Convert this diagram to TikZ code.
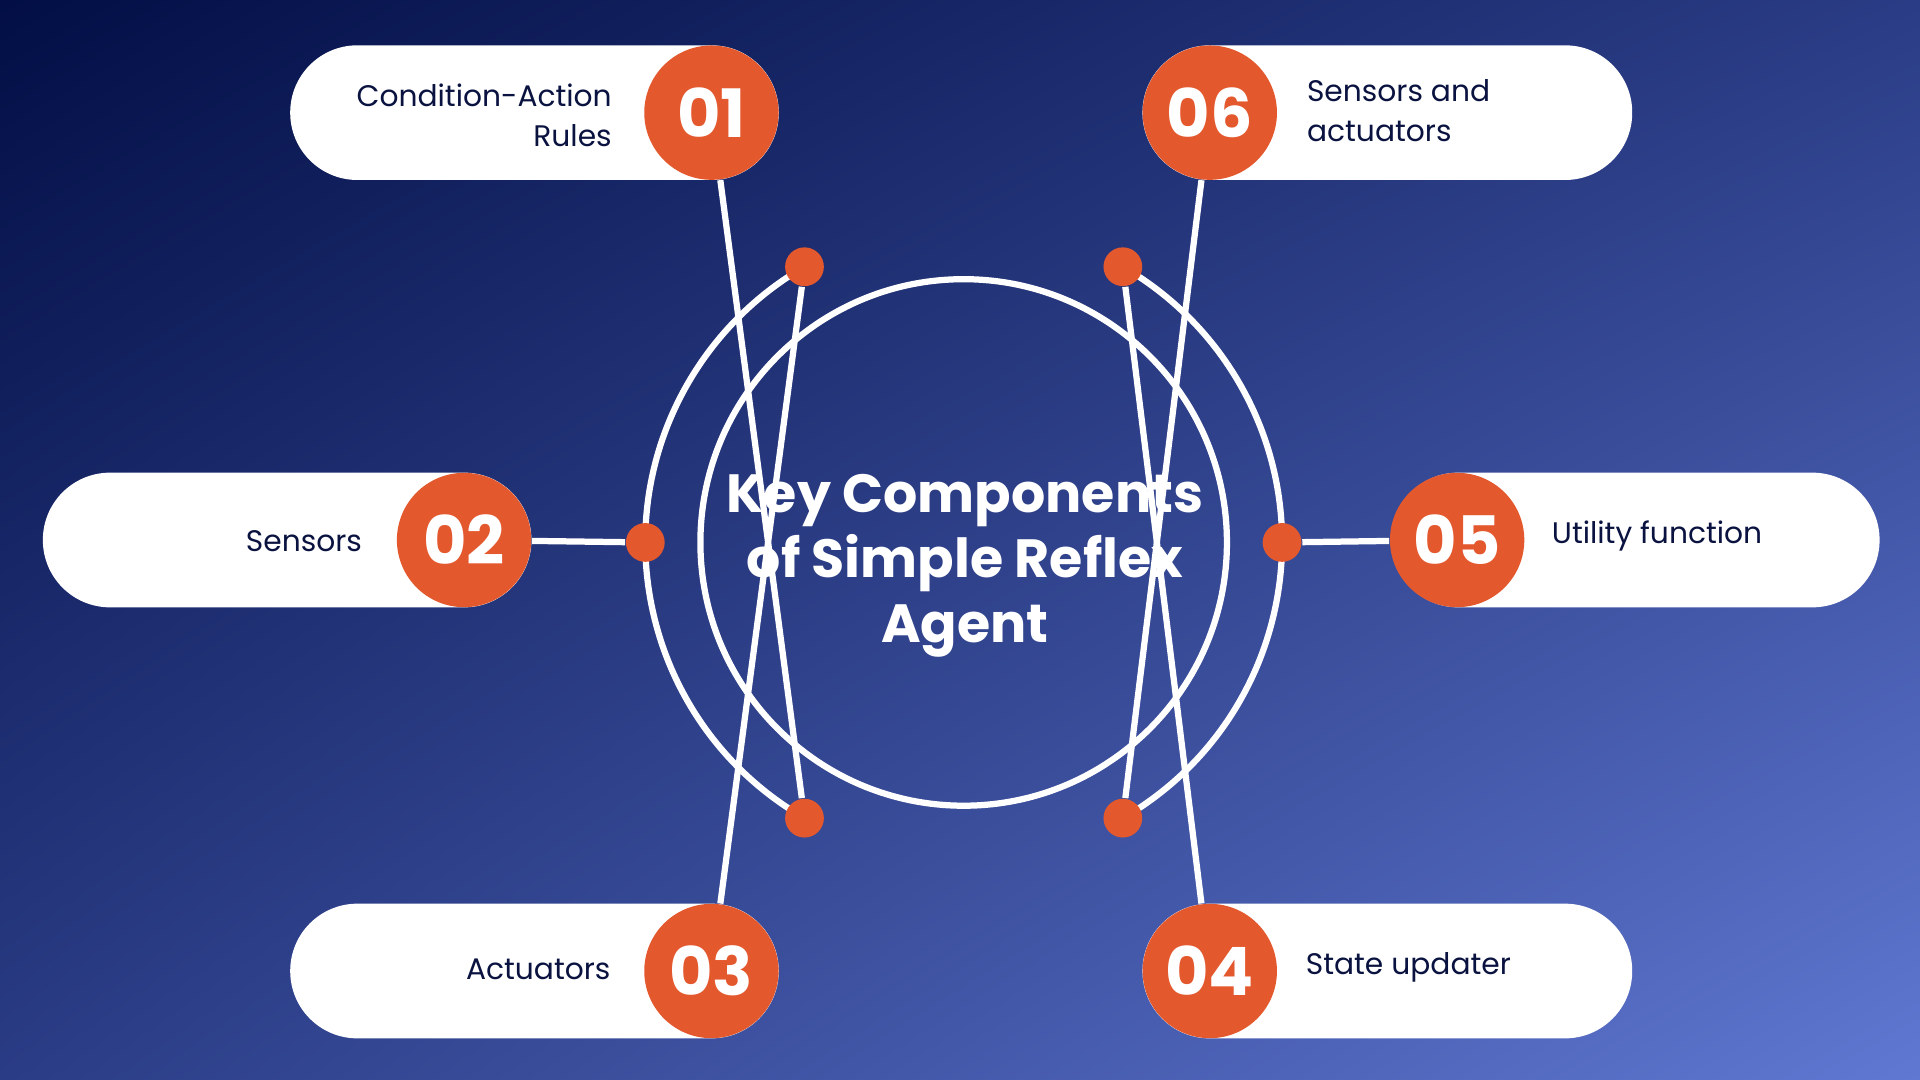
\documentclass[tikz,border=0pt]{standalone}
\usepackage{fontspec}
\setmainfont{Poppins}
\usetikzlibrary{calc,shadings}
\definecolor{bgA}{HTML}{020E45}
\definecolor{bgB}{HTML}{6078D2}
\definecolor{bgM}{HTML}{2A3C85}
\definecolor{org}{HTML}{E4582E}
\definecolor{navy}{HTML}{0A1240}
\begin{document}
\begin{tikzpicture}[x=0.01cm,y=-0.01cm,
  pill/.style={fill=white,rounded corners=15.6pt},
  numc/.style={circle,fill=org,minimum size=31.2pt,inner sep=0,text=white,font=\fontsize{15.5}{16}\selectfont\bfseries},
  lbl/.style={text=navy,font=\fontsize{6.9}{9.3}\selectfont,align=#1},
  dot/.style={circle,fill=org,minimum size=9pt,inner sep=0},
  wl/.style={white,line width=1.45pt}]
\shade[upper left=bgA,lower right=bgB,upper right=bgM,lower left=bgM] (0,0) rectangle (1568,882);
\useasboundingbox (0,0) rectangle (1568,882);
\coordinate (c) at (787,443);
\draw[wl] (c) circle[radius=215];
\draw[wl] ($(c)+(120:260)$) arc[start angle=120,end angle=240,radius=260];
\draw[wl] ($(c)+(60:260)$) arc[start angle=60,end angle=-60,radius=260];
% pills
\fill[pill] (237,37) rectangle (636,147);
\fill[pill] (35,386) rectangle (434,496);
\fill[pill] (237,738) rectangle (636,848);
\fill[pill] (933,37) rectangle (1333,147);
\fill[pill] (1136,386) rectangle (1535,496);
\fill[pill] (933,738) rectangle (1333,848);
% dots
\node[dot] (d1) at ($(c)+(120:260)$) {};
\node[dot] (d2) at ($(c)+(180:260)$) {};
\node[dot] (d3) at ($(c)+(240:260)$) {};
\node[dot] (d6) at ($(c)+(60:260)$) {};
\node[dot] (d5) at ($(c)+(0:260)$) {};
\node[dot] (d4) at ($(c)+(-60:260)$) {};
% number circles
\node[numc] (n1) at (581,92) {01};
\node[numc] (n2) at (379,441) {02};
\node[numc] (n3) at (581,793) {03};
\node[numc] (n6) at (988,92) {06};
\node[numc] (n5) at (1190,441) {05};
\node[numc] (n4) at (988,793) {04};
\draw[wl] (d1) -- (n1); \draw[wl] (d2) -- (n2); \draw[wl] (d3) -- (n3);
\draw[wl] (d6) -- (n6); \draw[wl] (d5) -- (n5); \draw[wl] (d4) -- (n4);
% labels
\node[lbl=right,anchor=east] (t1) at (512,94) {Condition-Action\\Rules};
\node[lbl=right,anchor=east] (t2) at (308,442) {Sensors};
\node[lbl=right,anchor=east] (t3) at (511,792) {Actuators};
\node[lbl=left,anchor=west] (t6) at (1055,90) {Sensors and\\actuators};
\node[lbl=left,anchor=west] (t5) at (1255,438) {Utility function};
\node[lbl=left,anchor=west] (t4) at (1054,790) {State updater};
\node[text=white,align=center,font=\fontsize{12.5}{15}\selectfont\bfseries] (title) at (788,462) {Key Components\\of Simple Reflex\\Agent};
\end{tikzpicture}
\end{document}
